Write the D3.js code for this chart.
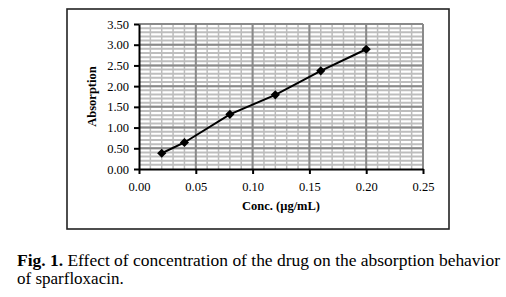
<!DOCTYPE html>
<html>
<head>
<meta charset="utf-8">
<script src="https://d3js.org/d3.v7.min.js"></script>
<style>
  body { margin: 0; background: #fff; }
  svg { display: block; }
  text { font-family: "Liberation Serif", "Times New Roman", serif; fill: #000; }
  .axis text { font-size: 12.5px; }
  .axis path, .axis line { stroke: #000; stroke-width: 2px; }
</style>
</head>
<body>
<script>
  // data
  const conc = [0.02, 0.04, 0.08, 0.12, 0.16, 0.20];
  const absorb = [0.38, 0.64, 1.32, 1.79, 2.37, 2.89];
  const xTicks = [0, 0.05, 0.10, 0.15, 0.20, 0.25];
  const yTicks = [0, 0.5, 1.0, 1.5, 2.0, 2.5, 3.0, 3.5];

  const width = 506, height = 297;
  const plotL = 139, plotR = 423, plotT = 24, plotB = 169;

  const svg = d3.select("body").append("svg")
    .attr("width", width)
    .attr("height", height);

  // chart frame
  svg.append("rect")
    .attr("x", 67).attr("y", 9)
    .attr("width", 382).attr("height", 220)
    .attr("fill", "#fff")
    .attr("stroke", "#222")
    .attr("stroke-width", 1.6);

  const x = d3.scaleLinear().domain([0, 0.25]).range([plotL, plotR]);
  const y = d3.scaleLinear().domain([0, 3.5]).range([plotB, plotT]);

  // minor grid
  const g = svg.append("g");
  g.selectAll("line.hminor")
    .data(d3.range(1, 35).map(function (i) { return i / 10; }))
    .enter().append("line")
    .attr("x1", plotL).attr("x2", plotR)
    .attr("y1", function (d) { return y(d); })
    .attr("y2", function (d) { return y(d); })
    .attr("stroke", "#bdbdbd").attr("stroke-width", 2);
  g.selectAll("line.vminor")
    .data(d3.range(1, 25).map(function (i) { return i / 100; }))
    .enter().append("line")
    .attr("y1", plotT).attr("y2", plotB)
    .attr("x1", function (d) { return x(d); })
    .attr("x2", function (d) { return x(d); })
    .attr("stroke", "#bdbdbd").attr("stroke-width", 1.5);
  // major grid
  g.selectAll("line.hmajor")
    .data(yTicks.slice(1))
    .enter().append("line")
    .attr("x1", plotL).attr("x2", plotR)
    .attr("y1", function (d) { return y(d); })
    .attr("y2", function (d) { return y(d); })
    .attr("stroke", "#8a8a8a").attr("stroke-width", 2);
  g.selectAll("line.vmajor")
    .data(xTicks.slice(1))
    .enter().append("line")
    .attr("y1", plotT).attr("y2", plotB)
    .attr("x1", function (d) { return x(d); })
    .attr("x2", function (d) { return x(d); })
    .attr("stroke", "#8a8a8a").attr("stroke-width", 2);

  // axes
  svg.append("g").attr("class", "axis")
    .attr("transform", "translate(0," + plotB + ")")
    .call(d3.axisBottom(x).tickValues(xTicks).tickFormat(d3.format(".2f"))
      .tickSize(5).tickSizeOuter(0).tickPadding(8));
  svg.append("g").attr("class", "axis")
    .attr("transform", "translate(" + plotL + ",0)")
    .call(d3.axisLeft(y).tickValues(yTicks).tickFormat(d3.format(".2f"))
      .tickSize(5).tickSizeOuter(0).tickPadding(5));

  // series
  const pts = conc.map(function (c, i) { return [c, absorb[i]]; });
  const line = d3.line()
    .x(function (d) { return x(d[0]); })
    .y(function (d) { return y(d[1]); });
  svg.append("path")
    .attr("d", line(pts))
    .attr("fill", "none")
    .attr("stroke", "#000")
    .attr("stroke-width", 2);
  svg.selectAll("path.pt")
    .data(pts)
    .enter().append("path")
    .attr("class", "pt")
    .attr("d", d3.symbol(d3.symbolSquare, 42))
    .attr("transform", function (d) {
      return "translate(" + x(d[0]) + "," + y(d[1]) + ") rotate(45)";
    })
    .attr("fill", "#000");

  // axis titles
  svg.append("text")
    .text("Conc. (\u00b5g/mL)")
    .attr("x", (plotL + plotR) / 2)
    .attr("y", 210)
    .attr("text-anchor", "middle")
    .attr("font-weight", "bold")
    .attr("font-size", "12.5px");
  svg.append("text")
    .text("Absorption")
    .attr("transform", "translate(96," + ((plotT + plotB) / 2) + ") rotate(-90)")
    .attr("text-anchor", "middle")
    .attr("font-weight", "bold")
    .attr("font-size", "12.5px");

  // caption
  const cap = svg.append("text").attr("x", 17).attr("y", 266).attr("font-size", "17px")
    .attr("textLength", 483).attr("lengthAdjust", "spacingAndGlyphs");
  cap.append("tspan").attr("font-weight", "bold").text("Fig. 1.");
  cap.append("tspan").text(" Effect of concentration of the drug on the absorption behavior");
  svg.append("text").attr("x", 17).attr("y", 284).attr("font-size", "17px")
    .text("of sparfloxacin.");
</script>
</body>
</html>
